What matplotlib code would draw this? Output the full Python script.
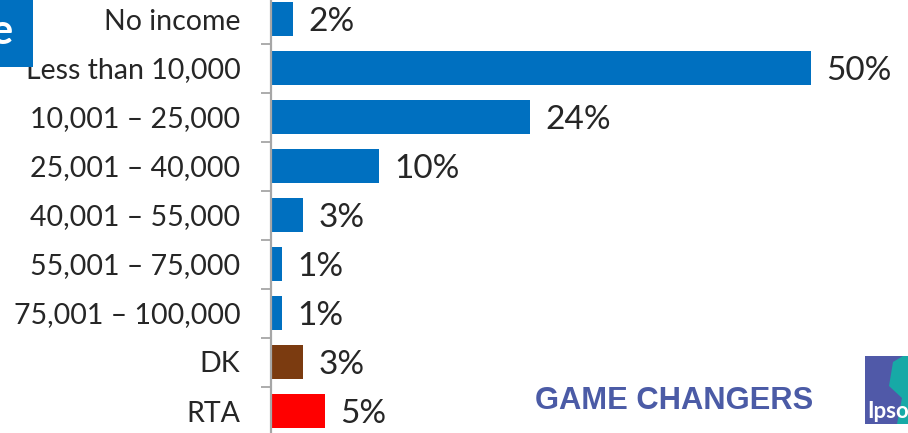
"""
Household income distribution - horizontal bar chart.
"""
import matplotlib
matplotlib.use('Agg')
import matplotlib.pyplot as plt
from matplotlib.patches import Rectangle, Polygon

# Data
categories = ['No income', 'Less than 10,000', '10,001 – 25,000', '25,001 – 40,000',
              '40,001 – 55,000', '55,001 – 75,000', '75,001 – 100,000', 'DK', 'RTA']
values = [2, 50, 24, 10, 3, 1, 1, 3, 5]
value_labels = ['2%', '50%', '24%', '10%', '3%', '1%', '1%', '3%', '5%']
bar_colors = ['#0070C0'] * 7 + ['#7B3B10', '#FF0000']

W, H = 908, 433


def px(x, y):
    """Pixel position (from top-left) to figure fraction."""
    return x / W, 1 - y / H


def main():
    plt.rcParams['font.family'] = ['Lato', 'DejaVu Sans']
    fig = plt.figure(figsize=(W / 100, H / 100), dpi=100)

    # Axes placed so bars line up with the slide crop
    left, top = 271, -5.5
    bottom = 435.5
    ax = fig.add_axes([left / W, (H - bottom) / H, (W - left) / W, (bottom - top) / H])

    ypos = list(range(len(categories)))
    ax.barh(ypos, values, height=0.69, color=bar_colors)
    ax.set_xlim(0, 50 * (W - left) / (811 - left))
    ax.set_ylim(len(categories) - 0.5, -0.5)

    for y, v, lab in zip(ypos, values, value_labels):
        ax.annotate(lab, (v, y), xytext=(11, -2), textcoords='offset points',
                    va='center', ha='left', fontsize=24, color='#262626')

    ax.set_yticks(ypos)
    ax.set_yticklabels(categories, fontsize=20.5, color='#262626')
    ax.set_yticks([i + 0.5 for i in ypos[:-1]], minor=True)
    ax.tick_params(axis='y', which='major', length=0, pad=22)
    ax.tick_params(axis='y', which='minor', length=7.2, width=1.3, color='#A6A6A6')
    ax.set_xticks([])
    for side in ['top', 'right', 'bottom']:
        ax.spines[side].set_visible(False)
    ax.spines['left'].set_color('#A6A6A6')
    ax.spines['left'].set_linewidth(1.6)

    # Cropped slide title box
    x0, y0 = px(0, 67)
    fig.patches.append(Rectangle((x0, y0), 33 / W, 67 / H, transform=fig.transFigure,
                                 facecolor='#0070C0', edgecolor='none'))
    fig.text(*px(13, 32), 'e', ha='right', va='center', fontsize=30,
             fontweight='bold', color='white')

    # Footer branding
    fig.text(*px(535, 401), 'GAME CHANGERS', ha='left', va='center', fontsize=22.2,
             fontweight='bold', color='#4B5BA6', family='Liberation Sans')
    lx, ly = px(865, 424)
    fig.patches.append(Rectangle((lx, ly), 50 / W, 68 / H, transform=fig.transFigure,
                                 facecolor='#5059A8', edgecolor='none'))
    teal = [px(893, 362), px(903, 356), px(910, 356), px(910, 424), px(897, 424),
            px(902, 398), px(889, 386)]
    fig.patches.append(Polygon(teal, closed=True, transform=fig.transFigure,
                               facecolor='#17A9A6', edgecolor='none'))
    fig.text(*px(867, 411), 'Ipsos', ha='left', va='center', fontsize=16,
             fontweight='bold', color='white')

    fig.savefig('out.png', dpi=100)
    plt.close(fig)


if __name__ == "__main__":
    main()
